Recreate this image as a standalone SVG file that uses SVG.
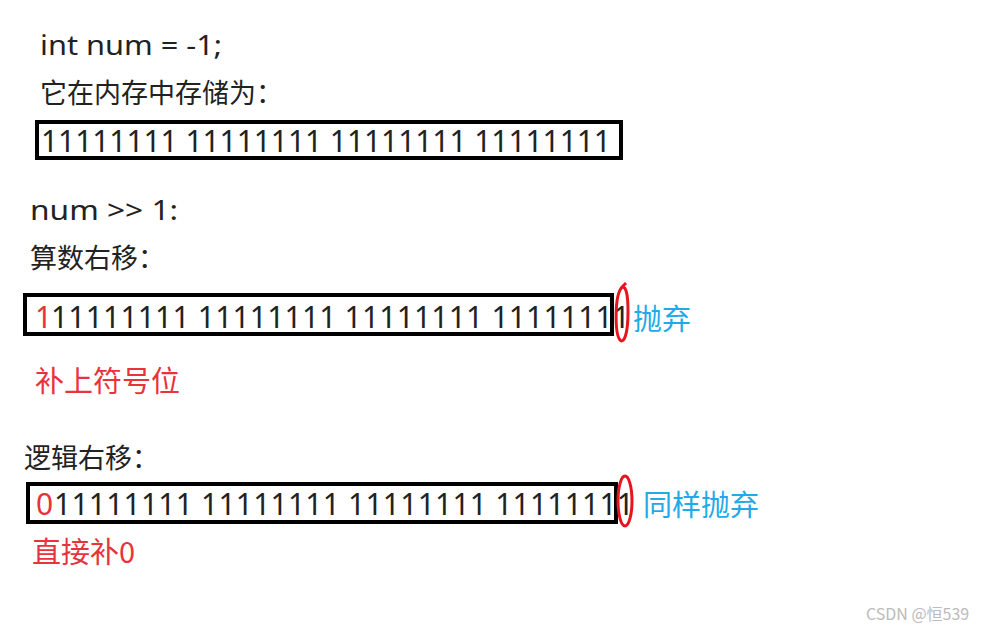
<svg xmlns="http://www.w3.org/2000/svg" width="992" height="633" viewBox="0 0 992 633">
<style>
text{font-family:"Noto Sans","Noto Sans CJK SC",sans-serif;}
.cjk{font-family:"Noto Sans CJK SC","Noto Sans",sans-serif;}
.t{fill:#222;font-size:27px;}
.d{fill:#222;font-size:30px;}
.r{fill:#e8333c;}
.b{fill:#22aae8;}
.box{fill:none;stroke:#000;stroke-width:4;}
.ell{fill:none;stroke:#e8141e;stroke-width:3;}
</style>
<rect width="992" height="633" fill="#fff"/>
<g id="declaration">
<text class="t" x="40" y="55" textLength="182" lengthAdjust="spacingAndGlyphs">int num = -1;</text>
<text class="t cjk" x="40" y="103">它在内存中存储为：</text>
</g>
<g id="memory">
<rect class="box" x="37" y="122" width="584" height="36"/>
<text class="d" x="41" y="152" textLength="570" lengthAdjust="spacing">11111111 11111111 11111111 11111111</text>
</g>
<g id="arith-title">
<text class="t" x="30" y="220" textLength="148" lengthAdjust="spacingAndGlyphs">num &gt;&gt; 1:</text>
<text class="t cjk" x="30" y="268">算数右移：</text>
</g>
<g id="arith">
<text class="d r" x="35" y="328">1</text>
<text class="d" x="51" y="328" textLength="579" lengthAdjust="spacing">11111111 11111111 11111111 11111111</text>
<rect class="box" x="25" y="295" width="587" height="39"/>
<text class="cjk b" x="633" y="330" font-size="29">抛弃</text>
<text class="cjk r" x="35" y="392" font-size="29">补上符号位</text>
</g>
<g id="logic-title">
<text class="t cjk" x="24" y="468">逻辑右移：</text>
</g>
<g id="logic">
<text class="d r" x="36" y="515">0</text>
<text class="d" x="54" y="515" textLength="580" lengthAdjust="spacing">11111111 11111111 11111111 11111111</text>
<rect class="box" x="28" y="484" width="588" height="38"/>
<text class="cjk b" x="643" y="516" font-size="29">同样抛弃</text>
<text class="cjk r" x="32" y="563" font-size="29">直接补0</text>
</g>
<g id="connectors">
<path class="ell" d="M622,287 C614,296 615,334 620,340 C624,344 628,334 628,312 C628,294 626,286 622,287 M622,287 L626,283"/>
<ellipse class="ell" cx="625" cy="501" rx="7" ry="25"/>
</g>
<text x="866" y="620" font-size="16" fill="#bbb" class="cjk">CSDN @恒539</text>
</svg>
